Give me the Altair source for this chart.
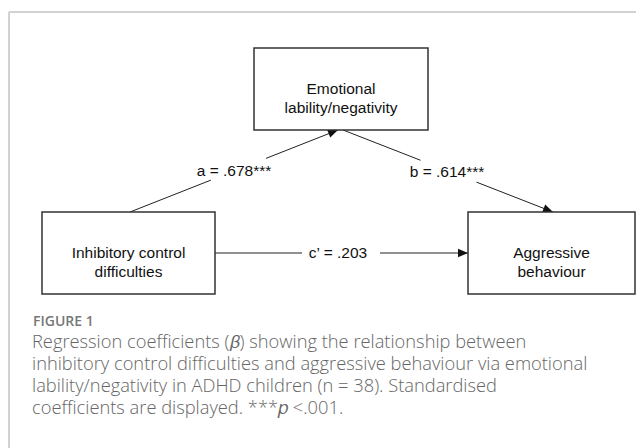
import math
import altair as alt
import pandas as pd

# ---------------- data ----------------
node_ids = ["mediator", "predictor", "outcome"]
node_labels = ["Emotional\nlability/negativity", "Inhibitory control\ndifficulties", "Aggressive\nbehaviour"]
path_names = ["a", "b", "c’"]
path_coefs = [".678***", ".614***", ".203"]
path_from = ["predictor", "mediator", "predictor"]
path_to = ["mediator", "outcome", "outcome"]
figure_label = "FIGURE 1"
caption_lines = [
    "Regression coefficients (𝛽) showing the relationship between",
    "inhibitory control difficulties and aggressive behaviour via emotional",
    "lability/negativity in ADHD children (n = 38). Standardised",
    "coefficients are displayed. ***𝑝 <.001.",
]

# ---------------- layout (page pixels) ----------------
W, H = 628, 440
BOX = {"mediator": (254, 48, 428, 130), "predictor": (42, 212, 215, 294), "outcome": (468, 212, 635, 294)}
EDGE_START = {"a": (130, 212), "b": (343, 130), "c’": (215, 253)}
EDGE_END = {"a": (338, 130), "b": (553, 212), "c’": (468, 253)}
EDGE_GAP = {"a": (0.389, 0.654), "b": (0.369, 0.636), "c’": (0.344, 0.652)}
LABEL_POS = {"a": (234, 171), "b": (447, 172), "c’": (338, 253)}
FRAME = [(9, 12, 644, 12), (9, 12, 9, 448)]
CAP_X = 32
FIG_Y = 322
CAP_Y0, CAP_DY = 343, 22

xs = alt.Scale(domain=[8, 8 + W], range=[0, W], nice=False, zero=False)
ys = alt.Scale(domain=[8, 8 + H], range=[0, H], nice=False, zero=False)

def X(f):
    return alt.X(f, type="quantitative", scale=xs, axis=None)

def Y(f):
    return alt.Y(f, type="quantitative", scale=ys, axis=None)

# frame
frame_df = pd.DataFrame(FRAME, columns=["x", "y", "x2", "y2"])
frame = alt.Chart(frame_df).mark_rule(color="#d2d2d2", strokeWidth=2).encode(
    x=X("x"), y=Y("y"), x2="x2:Q", y2="y2:Q")

# edges
seg_rows, head_rows, lab_rows = [], [], []
for name, coef, f, t in zip(path_names, path_coefs, path_from, path_to):
    x0, y0 = EDGE_START[name]
    x1, y1 = EDGE_END[name]
    g0, g1 = EDGE_GAP[name]
    seg_rows.append(dict(x=x0, y=y0, x2=x0 + g0 * (x1 - x0), y2=y0 + g0 * (y1 - y0)))
    seg_rows.append(dict(x=x0 + g1 * (x1 - x0), y=y0 + g1 * (y1 - y0), x2=x1, y2=y1))
    ang = math.degrees(math.atan2(x1 - x0, -(y1 - y0))) % 360
    head_rows.append(dict(x=x1, y=y1, angle=ang))
    lx, ly = LABEL_POS[name]
    lab_rows.append(dict(x=lx, y=ly, text=f"{name} = {coef}"))

segs = alt.Chart(pd.DataFrame(seg_rows)).mark_rule(color="#222222", strokeWidth=1).encode(
    x=X("x"), y=Y("y"), x2="x2:Q", y2="y2:Q")
heads = alt.Chart(pd.DataFrame(head_rows)).mark_point(
    shape="M0,0L0.85,2L-0.85,2Z", size=100, filled=True, color="#111111", opacity=1, strokeWidth=0
).encode(x=X("x"), y=Y("y"), angle=alt.Angle("angle:Q", scale=None))
edge_labels = alt.Chart(pd.DataFrame(lab_rows)).mark_text(
    font="Liberation Sans", fontSize=15.5, color="#111111", baseline="middle", align="center"
).encode(x=X("x"), y=Y("y"), text="text:N")

# boxes
box_rows = []
for nid, lab in zip(node_ids, node_labels):
    x0, y0, x1, y1 = BOX[nid]
    box_rows.append(dict(x=x0, y=y0, x2=x1, y2=y1, cx=(x0 + x1) / 2, cy=(y0 + y1) / 2, text=lab))
box_df = pd.DataFrame(box_rows)
boxes = alt.Chart(box_df).mark_rect(fill="white", stroke="#333333", strokeWidth=1.5).encode(
    x=X("x"), y=Y("y"), x2="x2:Q", y2="y2:Q")
box_text = alt.Chart(box_df).mark_text(
    font="Liberation Sans", fontSize=15.5, color="#111111", baseline="middle", align="center",
    lineBreak="\n", lineHeight=19
).encode(x=X("cx"), y=Y("cy"), text="text:N")

# caption
fig_df = pd.DataFrame([dict(x=CAP_X + 1, y=FIG_Y, text=figure_label)])
fig = alt.Chart(fig_df).mark_text(
    font="Open Sans", fontSize=14, fontWeight=600, color="#777777", align="left", baseline="middle"
).encode(x=X("x"), y=Y("y"), text="text:N")
cap_df = pd.DataFrame([dict(x=CAP_X, y=CAP_Y0, text="\n".join(caption_lines))])
cap = alt.Chart(cap_df).mark_text(
    font="Open Sans", fontSize=18.3, fontWeight=300, color="#666666", align="left", baseline="middle",
    lineBreak="\n", lineHeight=CAP_DY
).encode(x=X("x"), y=Y("y"), text="text:N")

chart = alt.layer(frame, segs, heads, boxes, box_text, edge_labels, fig, cap).properties(
    width=W, height=H, padding=0, autosize=alt.AutoSizeParams(type="none"), background="white"
).configure_view(stroke=None)

chart.save("out.html", embed_options={"renderer": "svg", "actions": False})
